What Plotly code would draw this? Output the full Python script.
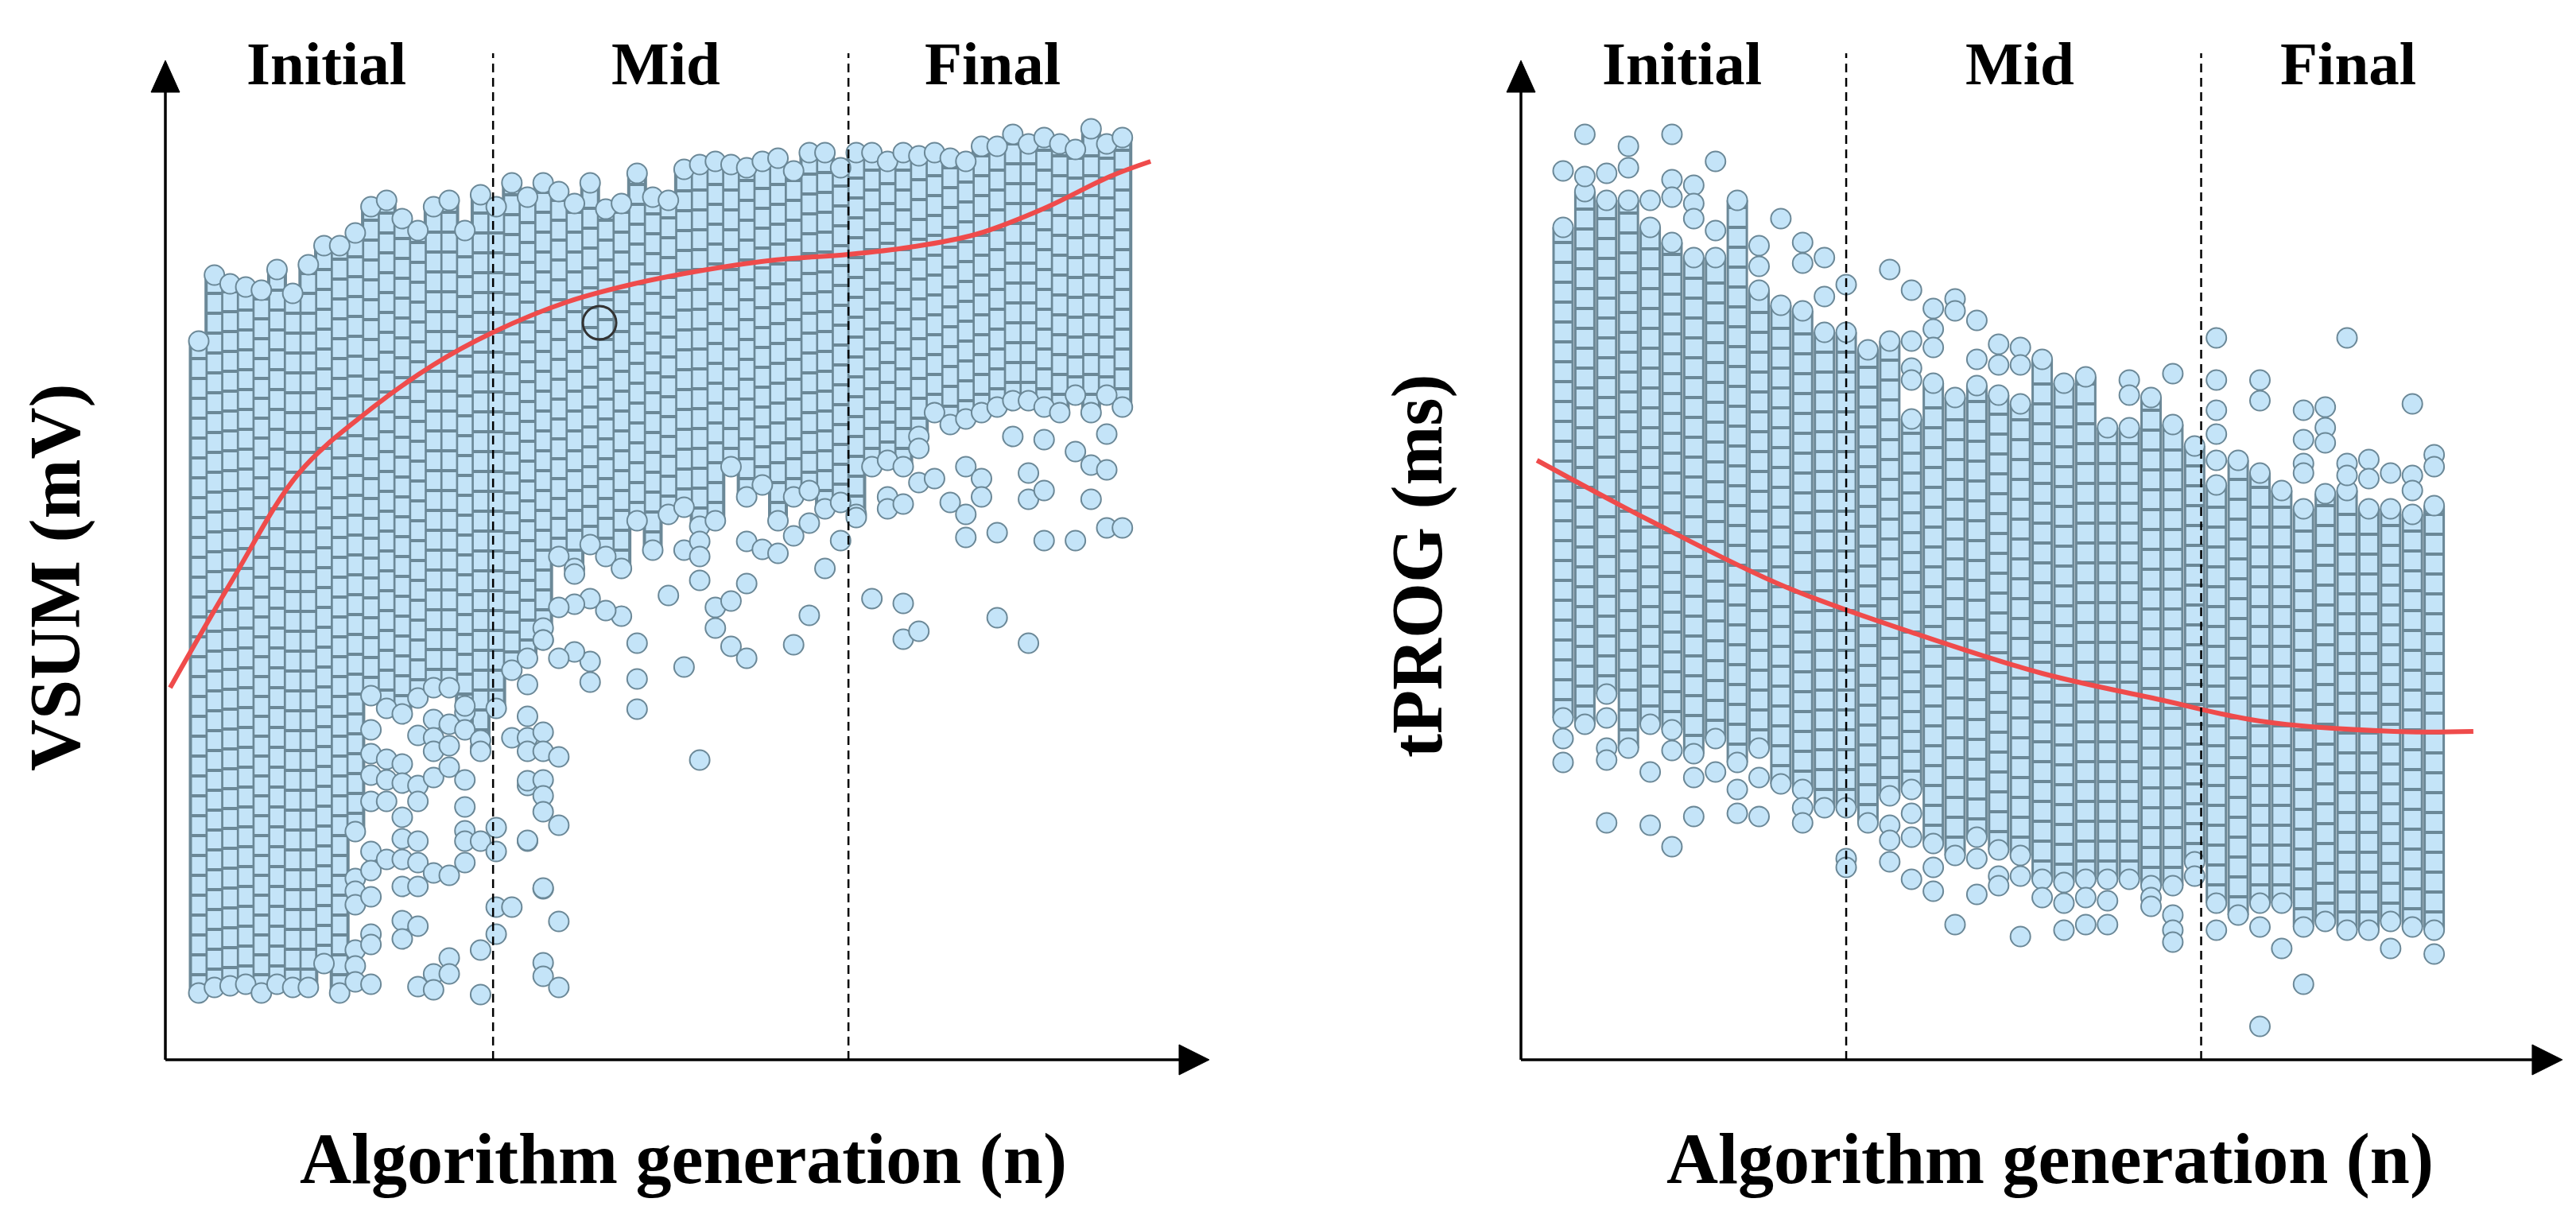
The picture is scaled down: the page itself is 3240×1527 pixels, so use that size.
import plotly.graph_objects as go

# valores (unidades arbitrárias, eixo y de 0 a ~126)
# painel esquerdo: VSUM por geração (60 gerações)
VSUM_GEN = list(range(1, 61))
VSUM_TOP = [90.4, 98.7, 97.6, 97.2, 96.8, 99.4, 96.4, 100.0, 102.4, 102.4,
            104.0, 107.3, 108.1, 105.8, 104.3, 107.3, 108.1, 104.3, 108.8, 107.3,
            110.3, 108.5, 110.3, 109.2, 107.7, 110.3, 107.0, 107.7, 111.5, 108.5,
            108.1, 112.0, 112.6, 113.0, 112.6, 112.2, 113.0, 113.4, 111.8, 114.1,
            114.1, 112.2, 114.1, 114.1, 113.0, 114.1, 113.7, 114.1, 113.4, 113.0,
            114.9, 114.9, 116.4, 115.2, 116.0, 115.2, 114.5, 117.1, 115.2, 116.0]
VSUM_BOTTOM = [8.4, 9.1, 9.3, 9.5, 8.4, 9.5, 9.1, 9.1, 12.1, 8.4,
               28.7, 45.8, 44.2, 43.5, 45.5, 46.8, 46.8, 43.7, 39.2, 44.2,
               49.0, 50.5, 54.3, 63.3, 61.8, 64.8, 63.3, 61.8, 67.8, 64.1,
               68.6, 69.5, 67.1, 67.8, 74.6, 70.8, 72.3, 67.8, 70.8, 71.6,
               69.3, 70.1, 68.6, 74.6, 75.4, 74.6, 78.4, 81.4, 79.9, 80.6,
               81.4, 82.1, 82.9, 82.9, 82.1, 81.4, 83.6, 81.4, 83.6, 82.1]
VSUM_OUT_GEN = [11, 11, 11, 11, 11, 11,
                12, 12, 12, 12, 12, 12, 12, 12, 12, 12,
                13, 13, 13, 13,
                14, 14, 14, 14, 14, 14, 14, 14,
                15, 15, 15, 15, 15, 15, 15, 15,
                16, 16, 16, 16, 16, 16, 16,
                17, 17, 17, 17, 17, 17,
                18, 18, 18, 18, 18, 18, 18,
                19, 19, 19, 19, 19,
                20, 20, 20, 20,
                21, 21,
                22, 22, 22, 22, 22, 22, 22, 22,
                23, 23, 23, 23, 23, 23, 23, 23, 23, 23,
                24, 24, 24, 24,
                26, 26, 25, 23, 24, 29, 29, 29, 31, 32, 28, 27, 26, 25, 24, 25,
                33, 33, 33, 34, 34, 35, 35, 36, 36, 32, 33, 36, 37, 38, 39, 39,
                40, 40, 41, 42, 43, 44, 45, 45, 46, 46, 46, 47, 47, 47, 48, 49,
                50, 50, 50, 51, 51, 52, 52, 54, 54, 54, 55, 55, 57, 57, 58, 58,
                59, 59, 59, 60, 55, 53]
VSUM_OUT_Y = [22.8, 21.2, 19.5, 13.8, 11.8, 9.8,
              41.5, 38.5, 35.8, 32.5, 26.2, 23.8, 20.5, 15.8, 14.5, 9.5,
              37.8, 35.2, 32.5, 25.2,
              37.2, 34.8, 30.5, 27.8, 25.2, 21.8, 17.5, 15.2,
              40.8, 34.5, 32.5, 27.5, 24.8, 21.8, 16.8, 9.2,
              42.8, 40.5, 38.8, 35.5, 23.5, 10.8, 8.8,
              42.2, 39.5, 36.8, 23.2, 12.8, 10.8,
              44.5, 41.5, 35.2, 31.8, 28.8, 27.5, 24.8,
              40.2, 38.8, 27.5, 13.8, 8.2,
              29.2, 26.2, 19.2, 15.8,
              40.5, 19.2,
              47.2, 43.2, 40.5, 38.8, 34.5, 27.5, 35.1, 27.6,
              41.2, 38.8, 35.2, 33.2, 31.2, 21.5, 12.2, 10.5, 52.8, 21.6,
              38.1, 29.5, 17.4, 9.1,
              47.5, 50.1, 51.3, 52.8, 50.5, 52.4, 47.9, 44.1, 58.4, 64.1, 55.8, 56.5, 58.0, 57.3, 56.9, 61.1,
              65.2, 63.3, 60.3, 56.9, 54.3, 57.7, 52.0, 59.9, 50.5, 49.4, 37.7, 65.2, 64.2, 63.7, 65.9, 52.2,
              67.5, 55.9, 61.8, 65.3, 68.2, 58.0, 70.8, 69.3, 69.9, 57.4, 52.9, 53.9, 76.9, 72.6, 73.1, 70.1,
              74.6, 68.6, 65.7, 73.1, 70.8, 66.3, 55.6, 73.8, 70.5, 52.4, 71.6, 65.3, 65.3, 76.5, 74.8, 70.5,
              78.7, 74.2, 66.9, 66.9, 78.0, 78.4]
VSUM_FIT_GEN = [-0.83, 3.13, 7.4, 11.7, 15.98, 19.8, 24.5, 28.8, 33.5, 37.8, 42.5, 46.4, 50.6, 54.9,
                59.2, 61.8]
VSUM_FIT_Y = [46.8, 60.3, 73.8, 81.4, 87.4, 91.5, 95.3, 97.6, 99.4, 100.6, 101.3, 102.2, 103.8, 107.0,
              111.1, 113.0]
VSUM_MARK_GEN = [26.6]
VSUM_MARK_Y = [92.7]
VSUM_CUTS = [19.8, 42.5]

# painel direito: tPROG por geração (41 gerações)
TPROG_GEN = list(range(1, 42))
TPROG_TOP = [104.7, 109.2, 108.1, 108.1, 104.7, 102.8, 100.9, 100.9, 108.1, 96.8,
             94.9, 94.2, 91.5, 91.5, 89.3, 90.4, 80.6, 85.1, 83.3, 84.8,
             83.6, 82.5, 88.1, 85.1, 85.9, 79.5, 79.5, 83.3, 79.9, 77.2,
             72.3, 75.4, 73.8, 71.6, 69.3, 71.2, 71.6, 69.3, 69.3, 68.6, 69.7]
TPROG_BOTTOM = [43.0, 42.2, 46.0, 39.2, 42.2, 41.5, 38.5, 40.4, 37.4, 39.2,
                34.7, 34.0, 31.7, 31.7, 29.8, 33.2, 34.0, 27.2, 25.7, 28.0,
                26.4, 25.7, 22.7, 22.3, 22.7, 22.7, 22.7, 21.9, 21.9, 24.9,
                19.7, 18.2, 19.7, 19.7, 16.7, 17.4, 16.3, 16.3, 17.4, 16.7, 16.3]
TPROG_OUT_GEN = [1, 1, 1, 2, 2, 3, 3, 3, 3, 3, 4, 4, 5, 5, 5, 6, 6, 6, 6, 6,
                 7, 7, 7, 7, 7, 8, 8, 8, 9, 9, 10, 10, 10, 10, 11, 12, 12, 12, 12,
                 13, 13, 14, 14, 14, 16, 16, 16, 16, 17, 17, 17, 17, 17, 17, 17,
                 18, 18, 18, 18, 18, 19, 19, 19, 20, 20, 20, 20, 21, 21, 21, 21,
                 22, 22, 22, 22, 23, 24, 24, 25, 25, 26, 26, 27, 27, 28, 28,
                 29, 29, 29, 29, 30, 31, 31, 31, 31, 31, 31, 33, 33, 33, 33, 34,
                 35, 35, 35, 35, 35, 36, 36, 36, 37, 37, 37, 38, 38, 39, 39,
                 40, 40, 40, 41, 41, 41]
TPROG_OUT_Y = [111.8, 40.4, 37.4, 116.4, 111.1, 111.5, 43.0, 39.2, 37.7, 29.8, 114.9, 112.2, 108.1, 36.2, 29.5,
               116.4, 110.7, 108.5, 38.9, 26.8,
               110.0, 107.7, 105.8, 35.5, 30.6, 113.0, 104.3, 36.2, 34.0, 31.0, 102.4, 99.8, 35.5, 30.6,
               105.8, 102.8, 100.2, 31.7, 29.8,
               100.9, 96.0, 97.5, 25.3, 24.2, 99.4, 29.5, 27.6, 24.9, 96.8, 90.4, 87.0, 85.5, 31.0, 28.0, 22.7,
               94.5, 91.9, 89.6, 24.2, 21.2, 95.7, 94.2, 17.0, 93.0, 88.1, 25.3, 20.8, 90.0, 87.4, 23.1, 21.9,
               89.6, 87.4, 23.1, 15.5, 20.4, 19.7, 16.3, 20.4, 17.0, 20.0, 17.0, 85.5, 83.6, 20.4, 19.3,
               86.3, 18.2, 16.3, 14.8, 23.1, 90.8, 85.5, 81.7, 78.7, 75.4, 16.3, 85.5, 82.9, 16.7, 4.2, 14.0,
               81.7, 78.0, 75.0, 73.8, 9.5, 82.1, 79.5, 77.6, 90.8, 75.0, 73.5, 75.5, 73.1, 73.8, 14.0,
               82.5, 73.5, 71.6, 76.1, 74.6, 13.3]
TPROG_FIT_GEN = [-0.2, 5.0, 11.2, 17.3, 23.0, 28.4, 33.0, 39.15, 42.8]
TPROG_FIT_Y = [75.4, 67.8, 59.5, 53.5, 48.6, 45.3, 42.6, 41.3, 41.3]
TPROG_CUTS = [14.0, 30.3]

STAGES = ["Initial", "Mid", "Final"]

# aparência
W, H = 3240, 1527
FILL = "#c4e4f8"
EDGE = "#6b8897"
RED = "#ef4b4b"
FONT = "Liberation Serif"
Y_RANGE = [-3, 127]
Y_TIP = 125.7
PX_PER_Y = 10.0
Y_DOMAIN = [(H - 1355) / H, (H - 55) / H]

panels = [
    dict(gen=VSUM_GEN, top=VSUM_TOP, bot=VSUM_BOTTOM, ogen=VSUM_OUT_GEN, oy=VSUM_OUT_Y,
         fgen=VSUM_FIT_GEN, fy=VSUM_FIT_Y, cuts=VSUM_CUTS, px0=242, step=19.69,
         xr=[-2.7, 65.8], yax=-1.133, tip=65.55, dark=25, light=17,
         ytitle="VSUM (mV)", ytx=62, yty=719, xtx=851, lab=[402, 829, 1240]),
    dict(gen=TPROG_GEN, top=TPROG_TOP, bot=TPROG_BOTTOM, ogen=TPROG_OUT_GEN, oy=TPROG_OUT_Y,
         fgen=TPROG_FIT_GEN, fy=TPROG_FIT_Y, cuts=TPROG_CUTS, px0=1958, step=27.39,
         xr=[-2.1, 47.3], yax=-0.935, tip=46.89, dark=27, light=21,
         ytitle="tPROG (ms)", ytx=1775, yty=704, xtx=2570, lab=[2107, 2532, 2945]),
]

fig = go.Figure()
shapes = []
annotations = []

for i, p in enumerate(panels):
    xa = "x" if i == 0 else "x2"
    ya = "y" if i == 0 else "y2"
    xkey = "xaxis" if i == 0 else "xaxis2"
    ykey = "yaxis" if i == 0 else "yaxis2"

    # colunas densas de pontos (faixa min-max de cada geração)
    cx, cy = [], []
    for g, t, b in zip(p["gen"], p["top"], p["bot"]):
        cx += [g, g, None]
        cy += [b, t, None]
    fig.add_trace(go.Scatter(x=cx, y=cy, mode="lines", xaxis=xa, yaxis=ya,
                             line=dict(color=EDGE, width=p["dark"]), hoverinfo="skip"))
    fig.add_trace(go.Scatter(x=cx, y=cy, mode="lines", xaxis=xa, yaxis=ya,
                             line=dict(color=FILL, width=p["light"], dash="21px,4px"),
                             hoverinfo="skip"))
    # pontos das extremidades e pontos isolados
    fig.add_trace(go.Scatter(x=p["gen"] + p["gen"] + p["ogen"],
                             y=p["top"] + p["bot"] + p["oy"],
                             mode="markers", xaxis=xa, yaxis=ya, cliponaxis=False,
                             marker=dict(size=25, color=FILL, line=dict(color=EDGE, width=2))))
    # curva de tendência
    fig.add_trace(go.Scatter(x=p["fgen"], y=p["fy"], mode="lines", xaxis=xa, yaxis=ya,
                             line=dict(color=RED, width=6, shape="spline", smoothing=1.0)))

    x0, x1 = p["xr"]
    fig.update_layout(**{
        xkey: dict(domain=[(p["px0"] + (x0 - 1) * p["step"]) / W,
                           (p["px0"] + (x1 - 1) * p["step"]) / W],
                   range=p["xr"], visible=False, anchor=ya),
        ykey: dict(domain=Y_DOMAIN, range=Y_RANGE, visible=False, anchor=xa),
    })

    # eixos com setas (pontas desenhadas como triângulos preenchidos)
    alen_x = 38 / p["step"]
    ahw_x = 18 / p["step"]
    alen_y = 40 / PX_PER_Y
    ahw_y = 19 / PX_PER_Y
    ax_ = p["yax"]
    tip = p["tip"]
    shapes.append(dict(type="line", xref=xa, yref=ya, x0=ax_, x1=tip - alen_x, y0=0, y1=0,
                       line=dict(color="black", width=3.5)))
    shapes.append(dict(type="line", xref=xa, yref=ya, x0=ax_, x1=ax_, y0=0, y1=Y_TIP - alen_y,
                       line=dict(color="black", width=3.5)))
    fig.add_trace(go.Scatter(x=[tip - alen_x, tip, tip - alen_x, tip - alen_x, None,
                                ax_ - ahw_x, ax_, ax_ + ahw_x, ax_ - ahw_x],
                             y=[ahw_y, 0, -ahw_y, ahw_y, None,
                                Y_TIP - alen_y, Y_TIP, Y_TIP - alen_y, Y_TIP - alen_y],
                             mode="lines", fill="toself", fillcolor="black",
                             line=dict(color="black", width=1), xaxis=xa, yaxis=ya,
                             cliponaxis=False, hoverinfo="skip"))
    for c in p["cuts"]:
        shapes.append(dict(type="line", xref=xa, yref=ya, x0=c, x1=c, y0=0, y1=126.6,
                           line=dict(color="black", width=2.5, dash="11px,7px")))

    for name, lx in zip(STAGES, p["lab"]):
        annotations.append(dict(text=f"<b>{name}</b>", x=lx / W, y=(H - 72) / H, xref="paper", yref="paper",
                                showarrow=False, xanchor="center", yanchor="middle",
                                font=dict(family=FONT, size=77, color="black")))
    annotations.append(dict(text=f"<b>{p['ytitle']}</b>", x=p["ytx"] / W, y=(H - p["yty"]) / H,
                            xref="paper", yref="paper", showarrow=False, textangle=-90,
                            xanchor="center", yanchor="middle",
                            font=dict(family=FONT, size=90, color="black")))
    annotations.append(dict(text="<b>Algorithm generation (n)</b>", x=p["xtx"] / W, y=(H - 1450) / H,
                            xref="paper", yref="paper", showarrow=False,
                            xanchor="center", yanchor="middle",
                            font=dict(family=FONT, size=90, color="black")))

# ponto destacado no painel esquerdo
fig.add_trace(go.Scatter(x=VSUM_MARK_GEN, y=VSUM_MARK_Y, mode="markers", xaxis="x", yaxis="y",
                         marker=dict(size=42, color="rgba(0,0,0,0)", line=dict(color="#333333", width=3))))

fig.update_layout(
    width=W, height=H,
    margin=dict(l=0, r=0, t=0, b=0),
    paper_bgcolor="white", plot_bgcolor="white",
    showlegend=False,
    shapes=shapes,
    annotations=annotations,
)

fig.write_html("out.html")
